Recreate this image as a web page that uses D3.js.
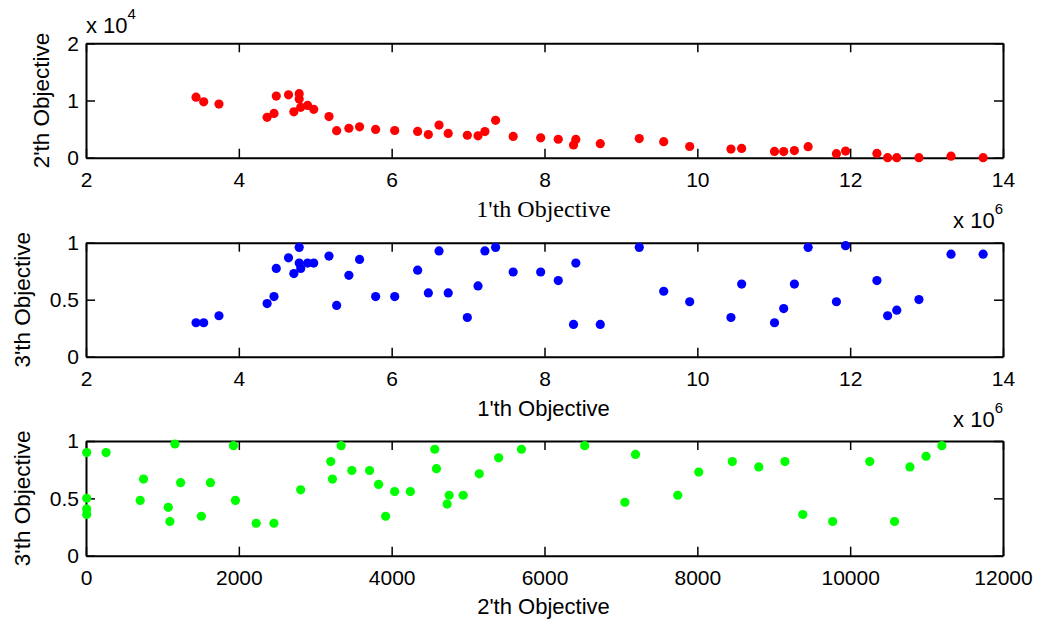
<!DOCTYPE html>
<html>
<head>
<meta charset="utf-8">
<script src="https://cdn.jsdelivr.net/npm/d3@7"></script>
<style>
  body { margin: 0; background: #fff; }
  text { font-family: "Liberation Sans", Arial, sans-serif; fill: #000; }
  .axis path, .axis line { stroke: #000; }
  .axis path { stroke-width: 2px; }
  .axis line { stroke-width: 1.5px; }
  .axis text { font-size: 21px; }
</style>
</head>
<body>
<div id="chart"></div>
<script>
// objective values (obj1 and obj3 shown in units of 10^6)
const obj1 = [3.44, 3.54, 3.74, 4.37, 4.46, 4.49, 4.65, 4.72, 4.79, 4.79, 4.81, 4.90, 4.98, 5.18, 5.28,
  5.44, 5.58, 5.79, 6.04, 6.34, 6.48, 6.62, 6.74, 6.99, 7.13, 7.22, 7.36, 7.59, 7.95, 8.18, 8.38, 8.41,
  8.73, 9.24, 9.56, 9.90, 10.44, 10.58, 11.01, 11.13, 11.27, 11.45, 11.82, 11.94, 12.35, 12.49, 12.61,
  12.90, 13.32, 13.74];
const obj2 = [10580, 9771, 9380, 7052, 7744, 10782, 10993, 8018, 11200, 10256, 8804, 9146, 8458, 7191,
  4726, 5146, 5400, 4936, 4752, 4586, 4039, 5698, 4245, 3921, 3829, 4564, 6526, 3711, 3479, 3225, 2227,
  3203, 2459, 3339, 2809, 1956, 1510, 1628, 1098, 1077, 1238, 1930, 709, 1164, 753, 9, 9, 9, 263, 9];
const obj3 = [0.298, 0.298, 0.359, 0.466, 0.527, 0.774, 0.867, 0.729, 0.959, 0.821, 0.774, 0.821, 0.821,
  0.883, 0.450, 0.714, 0.853, 0.527, 0.527, 0.759, 0.559, 0.928, 0.559, 0.344, 0.621, 0.928, 0.959, 0.743,
  0.743, 0.668, 0.283, 0.821, 0.283, 0.959, 0.574, 0.482, 0.344, 0.637, 0.298, 0.422, 0.637, 0.959, 0.482,
  0.974, 0.668, 0.359, 0.408, 0.501, 0.899, 0.899];

const obj1Ticks = [2, 4, 6, 8, 10, 12, 14];
const obj2Ticks = [0, 2000, 4000, 6000, 8000, 10000, 12000];
const obj2YTicks = [0, 1, 2];      // x 10^4
const obj3Ticks = [0, 0.5, 1];

const W = 1039, H = 621;
const left = 86, right = 1003;

const svg = d3.select("#chart").append("svg")
    .attr("width", W)
    .attr("height", H);

const panels = [
  {top: 43.3, bottom: 157.7, xs: obj1, ys: obj2.map(d => d / 1e4), xDom: [2, 14], yDom: [0, 2],
   xTicks: obj1Ticks, yTicks: obj2YTicks, color: "#ff0000",
   xLabel: "1'th Objective", xLabelY: 217, xSerif: true, yLabel: "2'th Objective", yLabelX: 49},
  {top: 242.7, bottom: 356.7, xs: obj1, ys: obj3, xDom: [2, 14], yDom: [0, 1],
   xTicks: obj1Ticks, yTicks: obj3Ticks, color: "#0000ff",
   xLabel: "1'th Objective", xLabelY: 416, yLabel: "3'th Objective", yLabelX: 30},
  {top: 441, bottom: 555.7, xs: obj2, ys: obj3, xDom: [0, 12000], yDom: [0, 1],
   xTicks: obj2Ticks, yTicks: obj3Ticks, color: "#00ff00",
   xLabel: "2'th Objective", xLabelY: 614, yLabel: "3'th Objective", yLabelX: 30}
];

const tickFmt = d => d3.format("")(d);

panels.forEach(p => {
  const x = d3.scaleLinear().domain(p.xDom).range([left, right]);
  const y = d3.scaleLinear().domain(p.yDom).range([p.bottom, p.top]);
  const g = svg.append("g");

  g.append("g").attr("class", "axis")
    .attr("transform", "translate(0," + p.bottom + ")")
    .call(d3.axisBottom(x).tickValues(p.xTicks).tickFormat(tickFmt)
      .tickSizeInner(-9).tickSizeOuter(0).tickPadding(14));
  g.append("g").attr("class", "axis")
    .attr("transform", "translate(0," + p.top + ")")
    .call(d3.axisTop(x).tickValues(p.xTicks).tickFormat("")
      .tickSizeInner(-9).tickSizeOuter(0));
  g.append("g").attr("class", "axis")
    .attr("transform", "translate(" + left + ",0)")
    .call(d3.axisLeft(y).tickValues(p.yTicks).tickFormat(tickFmt)
      .tickSizeInner(-9).tickSizeOuter(0).tickPadding(7));
  g.append("g").attr("class", "axis")
    .attr("transform", "translate(" + right + ",0)")
    .call(d3.axisRight(y).tickValues(p.yTicks).tickFormat("")
      .tickSizeInner(-9).tickSizeOuter(0));

  g.selectAll(".dot")
      .data(d3.range(p.xs.length))
    .enter()
      .append("circle")
      .attr("cx", i => x(p.xs[i]))
      .attr("cy", i => y(p.ys[i]))
      .attr("r", 4.6)
      .style("fill", p.color);

  g.append("text")
    .attr("x", (left + right) / 2 - 1)
    .attr("y", p.xLabelY)
    .attr("text-anchor", "middle")
    .style("font-size", p.xSerif ? "24px" : "22px")
    .style("font-family", p.xSerif ? "'Liberation Serif', 'Times New Roman', serif" : null)
    .text(p.xLabel);

  g.append("text")
    .attr("transform", "translate(" + p.yLabelX + "," + (p.top + p.bottom) / 2 + ") rotate(-90)")
    .attr("text-anchor", "middle")
    .style("font-size", "22.5px")
    .text(p.yLabel);
});

// exponent labels
function expLabel(xPos, yPos, exp, anchor) {
  const t = svg.append("text")
    .attr("x", xPos)
    .attr("y", yPos)
    .attr("text-anchor", anchor)
    .style("font-size", "22px");
  t.append("tspan").text("x 10");
  t.append("tspan").attr("dy", -14).style("font-size", "15px").text(exp);
}
expLabel(86, 33, "4", "start");
expLabel(1003, 228, "6", "end");
expLabel(1003, 427, "6", "end");
</script>
</body>
</html>
